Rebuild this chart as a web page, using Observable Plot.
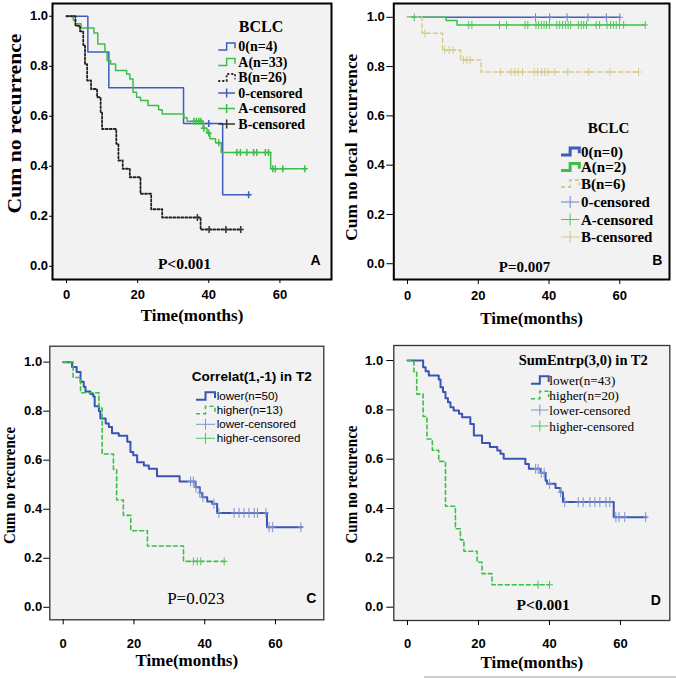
<!DOCTYPE html>
<html><head><meta charset="utf-8">
<script src="https://cdn.jsdelivr.net/npm/d3@7"></script>
<script src="https://cdn.jsdelivr.net/npm/@observablehq/plot@0.6"></script>
<style>
html,body{margin:0;padding:0;background:#fff;}
#root{position:relative;width:676px;height:679px;overflow:hidden;background:#fff;}
.panel{position:absolute;}
.panel svg{display:block;overflow:visible;}
#rule{position:absolute;left:424px;top:676px;width:252px;height:2px;background:#cfcfcf;}
</style></head><body><div id="root"><div id="rule"></div></div>
<script>
// ---------- shared ticks ----------
const xTicks = [0, 20, 40, 60];
const yTicks = [0, 0.2, 0.4, 0.6, 0.8, 1.0];

// ---------- Panel A : BCLC, recurrence ----------
const A0_t = [0, 6.0, 11.9, 32.9, 43.9, 51.2];
const A0_s = [1, 0.857, 0.714, 0.571, 0.286, 0.286];
const A0_c = [40.0, 51.2];
const AA_t = [0,1.9,2.5,4.1,7.7,8.8,10.8,11.4,12.4,13.8,16.9,17.8,18.7,19.7,20.8,22.9,25.9,26.9,33.0,33.9,38.4,39.5,40.3,41.9,43.5,57.4,67.0];
const AA_s = [1,0.985,0.97,0.953,0.933,0.889,0.856,0.823,0.809,0.783,0.769,0.749,0.696,0.676,0.663,0.643,0.626,0.609,0.594,0.580,0.552,0.533,0.510,0.494,0.455,0.390,0.390];
const AA_c = [35.8,36.5,37.2,37.8,38.6,40.0,42.8,47.9,48.9,50.7,52.6,53.5,55.9,56.8,58.0,58.7,60.8,67.0];
const AB_t = [0,2.5,3.8,4.7,5.2,5.8,6.9,8.6,9.6,10.0,14.0,14.6,15.8,17.8,20.8,23.8,26.9,37.7,49.0];
const AB_s = [1,0.962,0.94,0.885,0.808,0.743,0.709,0.676,0.615,0.549,0.49,0.423,0.39,0.356,0.29,0.228,0.195,0.147,0.147];
const AB_c = [36.8,40.1,44.8,49.0];

// ---------- Panel B : BCLC, local recurrence ----------
const B0_t = [0, 60.0];
const B0_s = [1, 1];
const B0_c = [36.2,40.2,45.1,51.0,56.2,60.0];
const BA_t = [0,10.9,14.0,67.2];
const BA_s = [1,0.987,0.969,0.969];
const BA_c = [1.9,17.3,18.2,26.0,28.0,33.2,34.0,36.3,37.0,37.8,38.6,39.3,40.1,42.2,43.0,43.8,44.6,45.4,46.1,48.3,49.1,49.8,50.6,53.3,54.3,56.4,57.4,58.2,59.0,59.9,61.1,67.2];
const BB_t = [0,4.1,9.9,15.0,20.8,65.3];
const BB_s = [1,0.935,0.867,0.827,0.778,0.778];
const BB_c = [4.9,10.5,11.8,12.9,15.8,16.8,17.7,26.2,29.3,30.3,31.3,32.5,35.8,36.8,37.9,38.8,39.7,41.6,45.3,51.2,57.2,65.3];

// ---------- Panel C : Correlat(1,-1) in T2 ----------
const CL_t = [0,2.5,3.8,4.9,5.8,6.3,7.7,8.5,8.9,10.1,10.5,12.0,12.9,13.8,15.7,18.1,19.0,19.8,20.9,22.8,24.2,26.5,32.9,37.4,38.6,39.3,40.7,42.1,43.5,57.6,67.5];
const CL_s = [1,0.98,0.96,0.92,0.90,0.88,0.87,0.86,0.82,0.80,0.77,0.75,0.735,0.71,0.70,0.675,0.633,0.62,0.592,0.578,0.565,0.535,0.513,0.49,0.467,0.449,0.432,0.422,0.385,0.327,0.327];
const CL_c = [36.0,36.8,37.5,38.6,39.5,42.6,44.0,48.3,49.7,51.1,52.5,54.0,54.9,57.3,58.2,59.2,67.2];
const CH_t = [0,2.8,4.9,10.1,11.0,14.2,15.1,17.0,19.1,23.8,34.0,45.9];
const CH_s = [1,0.9375,0.875,0.8125,0.625,0.5625,0.4375,0.375,0.3125,0.25,0.1875,0.1875];
const CH_c = [36.8,37.9,38.9,45.5];

// ---------- Panel D : SumEntrp(3,0) in T2 ----------
const DL_t = [0,4.4,5.1,6.0,8.8,9.3,10.0,10.7,11.4,12.1,13.0,14.5,15.4,17.7,18.7,21.0,23.2,25.3,26.2,27.1,33.2,34.2,37.5,38.9,39.3,41.7,43.1,43.8,58.1,67.3];
const DL_s = [1,0.973,0.957,0.939,0.923,0.892,0.872,0.847,0.831,0.811,0.797,0.784,0.770,0.743,0.696,0.666,0.649,0.635,0.622,0.602,0.581,0.561,0.545,0.514,0.50,0.483,0.466,0.426,0.365,0.365];
const DL_c = [36.1,36.8,37.7,38.5,40.0,43.1,44.3,48.1,49.5,51.4,52.8,54.2,55.9,57.0,58.7,59.6,61.2,67.1];
const DH_t = [0,1.8,2.6,4.4,5.5,7.0,8.8,10.7,13.5,14.9,15.9,19.6,21.0,23.8,40.0];
const DH_s = [1,0.955,0.864,0.773,0.682,0.636,0.591,0.409,0.318,0.273,0.227,0.182,0.136,0.091,0.091];
const DH_c = [36.8,40.0];

// ---------- helpers ----------
const SERIF = "Liberation Serif, Times New Roman, serif";
const SANS = "Liberation Sans, Arial, sans-serif";
const steps = (t, s) => t.map((d, i) => ({t: d, s: s[i]}));
const cens = (c, t, s) => c.map(x => { let v = s[0]; for (let i = 0; i < t.length; i++) if (t[i] <= x) v = s[i]; return {t: x, s: v}; });
const plusSym = (hx, hy) => ({draw(ctx){ ctx.moveTo(-hx,0); ctx.lineTo(hx,0); ctx.moveTo(0,-hy); ctx.lineTo(0,hy); }});

function panel(P) {
  const [ml, mt, mr, mb] = P.m;
  const frameMidY = mt + (P.h - mt - mb) / 2;
  const marks = [Plot.frame({fill: "#f2f2f2", stroke: null})];
  for (const S of P.series) marks.push(Plot.line(steps(S.t, S.s), {x: "t", y: "s", curve: "step-after", stroke: S.color, strokeWidth: S.w, strokeDasharray: S.dash || null}));
  for (const C of P.censors) marks.push(Plot.dot(cens(C.c, C.t, C.s), {x: "t", y: "s", symbol: plusSym(C.hx, C.hy), stroke: C.color, fill: "none", strokeWidth: C.w}));
  marks.push(Plot.frame({stroke: P.frameColor, strokeWidth: P.frameW}));
  marks.push(Plot.axisX(xTicks, {tickSize: P.xt[0], tickPadding: P.xt[1], label: null, fontFamily: SANS, fontWeight: "bold", fontSize: 13}));
  marks.push(Plot.axisY(yTicks, {tickSize: P.yt[0], tickPadding: P.yt[1], tickFormat: d3.format(".1f"), label: null, fontFamily: SANS, fontWeight: "bold", fontSize: 13}));
  marks.push(Plot.text([P.xLabel], {text: d => d, frameAnchor: "bottom", lineAnchor: "middle", dy: P.xLabelDy, fontFamily: SERIF, fontWeight: "bold", fontSize: 17}));
  // rotated y label: anchored at its start (bottom end), running upward
  marks.push(Plot.text([P.yLabel.text], {text: d => d, frameAnchor: "left", textAnchor: "start", lineAnchor: "middle", rotate: -90,
    dx: P.yLabel.x - ml, dy: (P.yLabel.y + P.yLabel.len / 2) - frameMidY, fontFamily: SERIF, fontWeight: "bold", fontSize: P.yLabel.size}));
  for (const T of P.texts) marks.push(Plot.text([T.text], {text: d => d, frameAnchor: "top-left", textAnchor: "middle", lineAnchor: "middle", dx: T.x - ml, dy: T.y - mt, fontFamily: T.font, fontWeight: T.weight, fontSize: T.size}));
  const svg = Plot.plot({
    width: P.w, height: P.h, marginLeft: ml, marginTop: mt, marginRight: mr, marginBottom: mb,
    x: {domain: P.xd}, y: {domain: P.yd},
    style: {fontFamily: SANS, fontSize: "13px", color: "#000", background: "transparent", overflow: "visible"},
    marks
  });
  d3.select(svg).selectAll("text").filter(function(){ return this.textContent === P.yLabel.text; })
    .attr("textLength", P.yLabel.len).attr("lengthAdjust", "spacingAndGlyphs");
  // legend
  const L = P.legend, g = d3.select(svg).append("g");
  g.append("text").attr("x", L.title.x).attr("y", L.title.y).attr("dy", "0.35em")
    .attr("text-anchor", L.title.anchor).attr("font-family", L.title.font).attr("font-weight", "bold")
    .attr("font-size", L.title.size).text(L.title.text);
  L.items.forEach((it, i) => {
    const y = L.rows[i], x0 = L.sw[0], x1 = L.sw[1], xm = (x0 + x1) / 2, h = L.sh;
    if (it.kind === "line") {
      g.append("path").attr("d", `M${x0},${y + h/2}H${xm}V${y - h/2}H${x1}V${y + h/4}`)
        .attr("fill", "none").attr("stroke", it.color).attr("stroke-width", it.w).attr("stroke-dasharray", it.dash || null);
    } else {
      g.append("path").attr("d", `M${x0},${y}H${x1}M${xm},${y - it.hy}V${y + it.hy}`)
        .attr("fill", "none").attr("stroke", it.color).attr("stroke-width", it.w);
    }
    g.append("text").attr("x", L.tx).attr("y", y).attr("dy", "0.35em").attr("text-anchor", "start")
      .attr("font-family", L.font).attr("font-weight", L.weight).attr("font-size", L.size).text(it.label);
  });
  const div = document.createElement("div");
  div.className = "panel"; div.style.left = P.left + "px"; div.style.top = P.top + "px";
  div.appendChild(svg);
  document.getElementById("root").appendChild(div);
}

const BLUE = "#3f5cbf", GREEN = "#3cbf48", BLACK = "#222", TAN = "#d6cb8b";

panel({
  left: 0, top: 0, w: 338, h: 330, m: [52, 3, 7, 51], xd: [-3.94, 74.5], yd: [-0.053, 1.051],
  frameColor: "#000", frameW: 2, xt: [4, 6], yt: [3, 1.5],
  series: [
    {t: A0_t, s: A0_s, color: BLUE, w: 1.5},
    {t: AA_t, s: AA_s, color: GREEN, w: 1.5},
    {t: AB_t, s: AB_s, color: BLACK, w: 1.8, dash: "2,2"}
  ],
  censors: [
    {c: A0_c, t: A0_t, s: A0_s, color: BLUE, w: 1.5, hx: 3, hy: 3.5},
    {c: AA_c, t: AA_t, s: AA_s, color: GREEN, w: 1.5, hx: 3, hy: 3.5},
    {c: AB_c, t: AB_t, s: AB_s, color: "#333", w: 1.5, hx: 3, hy: 3.5}
  ],
  xLabel: "Time(months)", xLabelDy: 36,
  yLabel: {text: "Cum no recurrence", x: 14, y: 123, size: 19, len: 180},
  texts: [
    {text: "P<0.001", x: 184, y: 263.3, font: SERIF, weight: "bold", size: 15.5},
    {text: "A", x: 315, y: 260, font: SANS, weight: "bold", size: 14}
  ],
  legend: {
    title: {text: "BCLC", x: 261, y: 26, anchor: "middle", font: SERIF, size: 16},
    rows: [46.5, 62, 77.5, 93, 108.5, 124], sw: [218.3, 235], sh: 7, tx: 238.3,
    font: SERIF, weight: "bold", size: 14,
    items: [
      {kind: "line", color: BLUE, w: 1.5, label: "0(n=4)"},
      {kind: "line", color: GREEN, w: 1.5, label: "A(n=33)"},
      {kind: "line", color: BLACK, w: 1.8, dash: "2,2", label: "B(n=26)"},
      {kind: "plus", color: BLUE, w: 1.5, hy: 4.5, label: "0-censored"},
      {kind: "plus", color: GREEN, w: 1.5, hy: 4.5, label: "A-censored"},
      {kind: "plus", color: "#333", w: 1.5, hy: 4.5, label: "B-censored"}
    ]
  }
});

panel({
  left: 338, top: 0, w: 338, h: 330, m: [55.3, 3, 7, 51], xd: [-3.87, 74.05], yd: [-0.064, 1.056],
  frameColor: "#000", frameW: 2, xt: [5, 6], yt: [7, 2],
  series: [
    {t: B0_t, s: B0_s, color: BLUE, w: 1.5},
    {t: BA_t, s: BA_s, color: GREEN, w: 1.5},
    {t: BB_t, s: BB_s, color: TAN, w: 1.5, dash: "4,3"}
  ],
  censors: [
    {c: B0_c, t: B0_t, s: B0_s, color: "#6f83d0", w: 1, hx: 3, hy: 4},
    {c: BA_c, t: BA_t, s: BA_s, color: "#4fc65a", w: 1, hx: 3, hy: 4},
    {c: BB_c, t: BB_t, s: BB_s, color: TAN, w: 1, hx: 3, hy: 4}
  ],
  xLabel: "Time(months)", xLabelDy: 39.5,
  yLabel: {text: "Cum no local\u00a0 recurrence", x: 13, y: 146.7, size: 17.5, len: 187},
  texts: [
    {text: "P=0.007", x: 186, y: 266.7, font: SERIF, weight: "bold", size: 15},
    {text: "B", x: 318.8, y: 260, font: SANS, weight: "bold", size: 14}
  ],
  legend: {
    title: {text: "BCLC", x: 270.5, y: 128, anchor: "middle", font: SERIF, size: 15},
    rows: [151.5, 167, 183.5, 202, 219.5, 237], sw: [223, 241.3], sh: 7, tx: 243,
    font: SERIF, weight: "bold", size: 15,
    items: [
      {kind: "line", color: BLUE, w: 3, label: "0(n=0)"},
      {kind: "line", color: GREEN, w: 3, label: "A(n=2)"},
      {kind: "line", color: TAN, w: 2, dash: "4,3", label: "B(n=6)"},
      {kind: "plus", color: "#6f83d0", w: 1, hy: 6, label: "0-censored"},
      {kind: "plus", color: "#4fc65a", w: 1, hy: 6, label: "A-censored"},
      {kind: "plus", color: TAN, w: 1, hy: 6, label: "B-censored"}
    ]
  }
});

panel({
  left: 0, top: 330, w: 338, h: 349, m: [49.3, 15.7, 14.7, 59.7], xd: [-3.79, 73.66], yd: [-0.051, 1.065],
  frameColor: "#333", frameW: 1.3, xt: [5, 14], yt: [6, 1.6],
  series: [
    {t: CL_t, s: CL_s, color: "#3a54b6", w: 2},
    {t: CH_t, s: CH_s, color: GREEN, w: 1.6, dash: "4,3"}
  ],
  censors: [
    {c: CL_c, t: CL_t, s: CL_s, color: "#7f91d4", w: 1, hx: 3, hy: 5},
    {c: CH_c, t: CH_t, s: CH_s, color: "#4fc65a", w: 1, hx: 3.5, hy: 4}
  ],
  xLabel: "Time(months)", xLabelDy: 40.7,
  yLabel: {text: "Cum no recurence", x: 8.8, y: 155, size: 17, len: 117},
  texts: [
    {text: "P=0.023", x: 195.3, y: 268.3, font: SERIF, weight: "normal", size: 17},
    {text: "C", x: 310.8, y: 268.5, font: SANS, weight: "bold", size: 14}
  ],
  legend: {
    title: {text: "Correlat(1,-1) in T2", x: 191.7, y: 46.7, anchor: "start", font: SANS, size: 13.6},
    rows: [66, 80, 94.3, 108.3], sw: [196, 215], sh: 7.5, tx: 216.7,
    font: SANS, weight: "normal", size: 11.6,
    items: [
      {kind: "line", color: "#3a54b6", w: 2, label: "lower(n=50)"},
      {kind: "line", color: GREEN, w: 1.6, dash: "4,3", label: "higher(n=13)"},
      {kind: "plus", color: "#7f91d4", w: 1, hy: 5.5, label: "lower-censored"},
      {kind: "plus", color: "#4fc65a", w: 1, hy: 5.5, label: "higher-censored"}
    ]
  }
});

panel({
  left: 338, top: 330, w: 338, h: 349, m: [55.3, 15, 6.7, 59], xd: [-3.86, 73.9], yd: [-0.054, 1.061],
  frameColor: "#333", frameW: 1.3, xt: [5, 13], yt: [7, 3.6],
  series: [
    {t: DL_t, s: DL_s, color: "#3a54b6", w: 2},
    {t: DH_t, s: DH_s, color: GREEN, w: 1.6, dash: "4,3"}
  ],
  censors: [
    {c: DL_c, t: DL_t, s: DL_s, color: "#7f91d4", w: 1, hx: 3, hy: 5},
    {c: DH_c, t: DH_t, s: DH_s, color: "#4fc65a", w: 1, hx: 3.5, hy: 4}
  ],
  xLabel: "Time(months)", xLabelDy: 41.7,
  yLabel: {text: "Cum no recurence", x: 13, y: 154, size: 17, len: 118},
  texts: [
    {text: "P<0.001", x: 204.7, y: 275, font: SERIF, weight: "bold", size: 15.5},
    {text: "D", x: 317.2, y: 270, font: SANS, weight: "bold", size: 14}
  ],
  legend: {
    title: {text: "SumEntrp(3,0) in T2", x: 180.7, y: 30, anchor: "start", font: SERIF, size: 14.5},
    rows: [50, 65, 80, 96], sw: [193, 210.7], sh: 7.5, tx: 211.3,
    font: SERIF, weight: "normal", size: 13.2,
    items: [
      {kind: "line", color: "#3a54b6", w: 2, label: "lower(n=43)"},
      {kind: "line", color: GREEN, w: 1.6, dash: "4,3", label: "higher(n=20)"},
      {kind: "plus", color: "#7f91d4", w: 1, hy: 5.5, label: "lower-censored"},
      {kind: "plus", color: "#4fc65a", w: 1, hy: 5.5, label: "higher-censored"}
    ]
  }
});
</script>
</body></html>
